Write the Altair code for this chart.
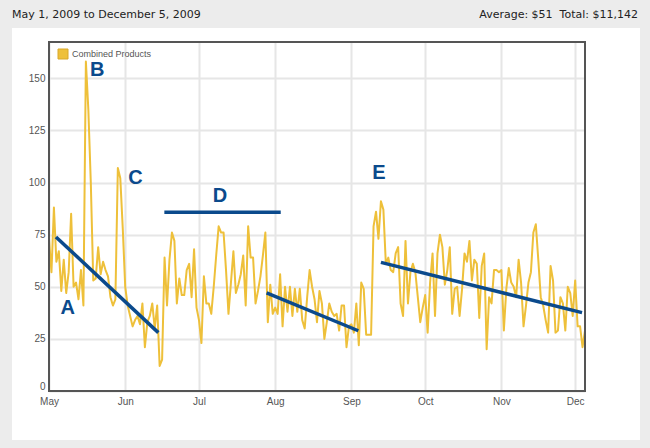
import altair as alt
import pandas as pd

# Daily sales, one list per month (May 1 - Dec 5, 2009)
START = "2009-05-01"
may = [73, 57, 88, 62, 67, 48, 63, 47, 57, 85, 50, 52, 44, 58, 41, 158, 135, 100,
       53, 54, 69, 56, 62, 58, 55, 45, 41, 44, 107, 102, 78]
jun = [50, 41, 36, 31, 34, 36, 32, 42, 21, 33, 36, 42, 30, 41, 12, 15, 64, 41, 63,
       76, 72, 42, 54, 46, 46, 58, 61, 45, 68, 40]
jul = [34, 23, 55, 42, 42, 37, 50, 65, 79, 76, 76, 58, 37, 52, 67, 47, 51, 56, 65,
       41, 79, 64, 64, 42, 48, 55, 65, 76, 33, 51, 37]
aug = [40, 37, 56, 31, 50, 38, 50, 36, 49, 38, 49, 34, 30, 45, 58, 50, 44, 33, 48,
       42, 25, 33, 42, 38, 36, 37, 29, 41, 41, 21, 31]
sep = [32, 28, 42, 22, 52, 49, 27, 27, 27, 79, 86, 73, 91, 87, 61, 64, 58, 57, 66,
       69, 42, 36, 72, 42, 57, 61, 57, 45, 33, 40]
oct_ = [46, 28, 52, 66, 36, 66, 75, 69, 51, 58, 69, 37, 49, 50, 36, 49, 66, 62, 72,
        53, 63, 61, 35, 60, 66, 20, 45, 42, 58, 58, 57]
nov = [58, 29, 49, 59, 52, 50, 45, 63, 52, 31, 41, 52, 57, 76, 80, 63, 45, 41, 34,
       28, 60, 53, 28, 29, 45, 42, 29, 50, 47, 36]
dec = [53, 31, 31, 21, 29]

sales = may + jun + jul + aug + sep + oct_ + nov + dec
days = pd.date_range(START, periods=len(sales), freq="D")
daily = pd.DataFrame({"date": days.strftime("%Y-%m-%d"), "sales": sales,
                      "series": "Combined Products"})

# Hand-drawn trend segments
seg_name = ["A", "D", "Aug", "E"]
seg_start = ["2009-05-03T20:00:00Z", "2009-06-16T22:00:00Z",
             "2009-07-28T12:00:00Z", "2009-09-13T00:00:00Z"]
seg_end = ["2009-06-14T11:00:00Z", "2009-08-03T06:00:00Z",
           "2009-09-03T19:00:00Z", "2009-12-03T19:00:00Z"]
seg_v0 = [73.9, 85.7, 47.1, 61.7]
seg_v1 = [28.0, 85.7, 28.9, 37.6]
segments = pd.DataFrame({"name": seg_name, "t0": seg_start, "t1": seg_end,
                         "v0": seg_v0, "v1": seg_v1})

# Annotation letters
note_text = ["A", "B", "C", "D", "E"]
note_date = ["2009-05-08T14:00:00Z", "2009-05-20T14:00:00Z", "2009-06-05T05:00:00Z",
             "2009-07-09T12:00:00Z", "2009-09-12T05:00:00Z"]
note_val = [39.7, 154, 102, 93.5, 104.7]
notes = pd.DataFrame({"label": note_text, "date": note_date, "value": note_val})

y_ticks = [0, 25, 50, 75, 100, 125, 150]
month_ticks = [alt.DateTime(year=2009, month=m, date=1, utc=True) for m in range(5, 13)]

total = sum(sales)
average = round(total / len(sales))
left_title = "May 1, 2009 to December 5, 2009"
right_title = f"Average: ${average}\u00a0\u00a0Total: ${total:,}"

W, H = 536, 349
GOLD = "#EEC03A"
BLUE = "#0B4A8C"
PANEL_GRAY = "#ececec"

x_scale = alt.Scale(type="utc",
                    domain=[alt.DateTime(year=2009, month=5, date=1, utc=True),
                            alt.DateTime(year=2009, month=12, date=5, utc=True)])
y_scale = alt.Scale(domain=[0, 167.4], nice=False)

x_axis = alt.Axis(values=month_ticks, format="%b", labelFlush=False, labelOverlap=False,
                  domain=False, ticks=False, labelPadding=5, title=None)
y_axis = alt.Axis(values=y_ticks, domain=False, ticks=False, labelPadding=4,
                  labelFlush=True, title=None)

one = alt.Data(values=[{}])

def strip(x0, x1, y0, y1):
    return alt.Chart(one).mark_rect(color=PANEL_GRAY).encode(
        x=alt.value(x0), x2=alt.value(x1), y=alt.value(y0), y2=alt.value(y1))

# grey frame around the white panel
frame = (strip(-49, 601, -42, -14) + strip(-49, -37, -14, 406)
         + strip(591, 601, -14, 406) + strip(-49, 601, 398, 406))

line = alt.Chart(daily).mark_line(color=GOLD, strokeWidth=2, strokeJoin="round").encode(
    x=alt.X("date:T", scale=x_scale, axis=x_axis),
    y=alt.Y("sales:Q", scale=y_scale, axis=y_axis),
)

trends = alt.Chart(segments).mark_rule(color=BLUE, strokeWidth=3.5).encode(
    x="t0:T", x2="t1:T", y="v0:Q", y2="v1:Q")

letters = alt.Chart(notes).mark_text(
    font="Liberation Sans", fontSize=20, fontWeight="bold", color=BLUE,
    baseline="middle", align="center").encode(
    x="date:T", y="value:Q", text="label:N")

border = alt.Chart(one).mark_rect(fillOpacity=0, stroke="#555555", strokeWidth=2).encode(
    x=alt.value(0), x2=alt.value(W), y=alt.value(0), y2=alt.value(H))

legend_box = alt.Chart(one).mark_square(size=100, color=GOLD, opacity=1,
                                        stroke="#d9a82a", strokeWidth=1).encode(
    x=alt.value(14), y=alt.value(12))
legend_text = alt.Chart(one).mark_text(font="Liberation Sans", fontSize=9, color="#555555",
                                       align="left", baseline="middle").encode(
    x=alt.value(23), y=alt.value(12), text=alt.value("Combined Products"))

head_left = alt.Chart(one).mark_text(font="DejaVu Sans", fontSize=11, color="#222222",
                                     align="left", baseline="middle").encode(
    x=alt.value(-37), y=alt.value(-27), text=alt.value(left_title))
head_right = alt.Chart(one).mark_text(font="DejaVu Sans", fontSize=11, color="#222222",
                                      align="right", baseline="middle").encode(
    x=alt.value(589), y=alt.value(-27), text=alt.value(right_title))

chart = alt.layer(
    line, trends, letters, border, legend_box, legend_text, frame, head_left, head_right
).properties(
    width=W, height=H,
    padding={"left": 49, "top": 42, "right": 65, "bottom": 57},
    autosize=alt.AutoSizeParams(type="none"),
    background="white",
).configure_view(
    strokeWidth=0
).configure_axis(
    labelFont="Liberation Sans", labelFontSize=10, labelColor="#555555",
    gridColor="#e6e6e6", gridWidth=2
)

chart.save("out.html", embed_options={"renderer": "svg", "actions": False})
